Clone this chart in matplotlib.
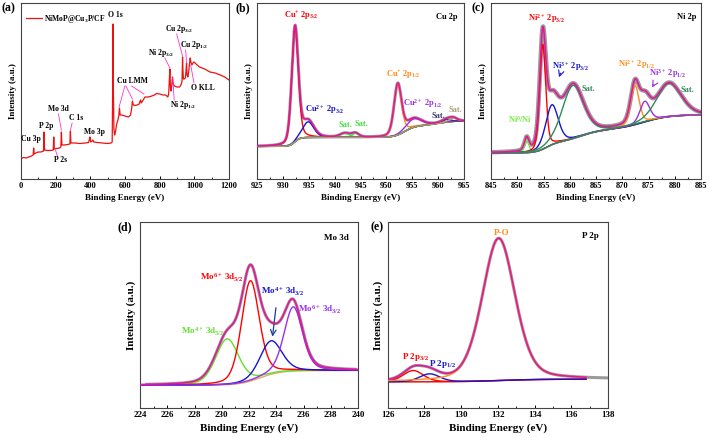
import numpy as np
import matplotlib
matplotlib.use('Agg')
import matplotlib.pyplot as plt

plt.rcParams['font.family'] = 'Liberation Serif'
plt.rcParams['font.weight'] = 'bold'
plt.rcParams['mathtext.fontset'] = 'custom'
plt.rcParams['mathtext.rm'] = 'Liberation Serif:bold'
plt.rcParams['mathtext.it'] = 'Liberation Serif:bold:italic'
plt.rcParams['mathtext.bf'] = 'Liberation Serif:bold'
plt.rcParams['mathtext.default'] = 'rm'
plt.rcParams['axes.linewidth'] = 0.8

# ---- (a) survey spectrum ----
survey_ev = [0, 15, 30, 45, 60, 70, 73, 76, 85, 100, 115, 130, 133, 136, 150, 170, 186, 189, 192,
             205, 222, 230, 233, 236, 250, 270, 282, 285, 288, 310, 340, 370, 390, 395, 398, 402,
             408, 414, 420, 440, 470, 500, 520, 526, 529, 531, 533, 536, 540, 545, 552, 559, 564,
             568, 572, 580, 600, 620, 632, 638, 643, 648, 657, 670, 682, 687, 690, 694, 705, 715,
             735, 755, 770, 782, 800, 820, 835, 847, 852, 856, 859, 862, 866, 870, 874, 878, 885,
             900, 915, 925, 929, 932, 934, 937, 942, 948, 952, 955, 958, 963, 968, 972, 976, 980,
             986, 992, 998, 1010, 1030, 1060, 1090, 1120, 1150, 1175, 1200]
survey_int = [20.5, 21.5, 21, 22, 23, 24, 31, 25, 26, 27, 27, 28, 47, 29, 28.5, 28.5, 29, 42, 30,
              30.5, 31, 32, 47, 34, 34, 34.5, 35, 48, 36, 36, 35.5, 36, 36.5, 40, 42, 37,
              37.5, 39, 37, 36.5, 36, 35.5, 36, 37, 90, 155, 90, 50, 44, 47, 55, 59, 63,
              71, 64, 64, 63, 62, 64, 70, 78, 74, 73.5, 74, 75, 78, 79, 76, 79, 82,
              82, 83, 84, 85.5, 85, 84, 84, 82, 85, 100, 110, 92, 88, 94, 102, 95, 93,
              92, 92, 95, 98, 122, 110, 100, 100, 101, 108, 116, 104, 102, 108, 115, 121, 117,
              114, 116, 117, 115, 112, 110, 107, 106, 104, 102, 99]

# ---- (b) Cu 2p fit ----
cu_centers = [932.35, 934.9, 942.0, 944.0, 952.2, 955.3, 961.6, 962.9]
cu_heights = [345, 47, 12, 12, 152, 25, 8, 10]
cu_fwhm = [1.5, 2.6, 2.2, 1.6, 1.7, 3.5, 2.0, 1.8]
cu_colors = ['#ff0000', '#1515d0', '#44dd44', '#44dd44', '#ff8c1a', '#9a30e6', '#3a3a70', '#a8a070']
cu_bg_base = 98
cu_bg_steps = [(932.3, 27, 1.0), (953.5, 35, 2.0), (960.0, 15, 3.0)]

# ---- (c) Ni 2p fit ----
ni_centers = [851.8, 854.85, 856.6, 860.6, 872.4, 874.3, 878.9]
ni_heights = [38, 315, 120, 160, 118, 62, 100]
ni_fwhm = [1.0, 1.35, 2.8, 4.8, 1.9, 2.2, 5.5]
ni_colors = ['#77ee44', '#ff0000', '#1515d0', '#2e8b57', '#ff8c1a', '#9a30e6', '#2e8b57']
ni_bg_base = 78
ni_bg_steps = [(855.5, 30, 2.0), (862.0, 40, 4.0), (874.0, 45, 5.0)]

# ---- (d) Mo 3d fit ----
mo_centers = [230.4, 232.1, 233.6, 235.25]
mo_heights = [137, 300, 100, 192]
mo_fwhm = [2.0, 1.55, 1.9, 1.6]
mo_colors = ['#66dd33', '#ff0000', '#1515d0', '#9a30e6']
mo_bg_base = 68
mo_bg_steps = [(232.8, 44, 1.5)]

# ---- (e) P 2p fit ----
p_centers = [127.4, 128.3, 132.05]
p_heights = [34, 24, 425]
p_fwhm = [1.3, 1.3, 2.1]
p_colors = ['#ff0000', '#1515d0', '#ff8c1a']
p_bg_base = 78
p_bg_steps = [(132.0, 8, 2.0)]

env_color = '#e6149a'
raw_color = '#9a9a9a'


def pv(x, c, h, w, eta=0.3):
    g = np.exp(-4 * np.log(2) * (x - c) ** 2 / w ** 2)
    l = 1 / (1 + 4 * (x - c) ** 2 / w ** 2)
    return h * ((1 - eta) * g + eta * l)


def background(x, base, steps):
    b = np.full_like(x, base, dtype=float)
    for c, rise, w in steps:
        b += rise * (1 + np.tanh((x - c) / w)) / 2
    return b


def fit_panel(ax, x, centers, heights, fwhm, colors, base, steps, bg_color, raw_lw=2.2, x_raw=None):
    bg = background(x, base, steps)
    comps = [pv(x, c, h, w) for c, h, w in zip(centers, heights, fwhm)]
    env = bg + np.sum(comps, axis=0)
    if x_raw is not None:
        bgr = background(x_raw, base, steps)
        envr = bgr + np.sum([pv(x_raw, c, h, w) for c, h, w in zip(centers, heights, fwhm)], axis=0)
        ax.plot(x_raw, envr, color=raw_color, lw=raw_lw, zorder=1)
    else:
        ax.plot(x, env, color=raw_color, lw=raw_lw, zorder=1)
    ax.plot(x, bg, color=bg_color, lw=1.0, zorder=2)
    for comp, col in zip(comps, colors):
        ax.plot(x, bg + comp, color=col, lw=1.0, zorder=3)
    ax.plot(x, env, color=env_color, lw=1.1, zorder=4)


def style(ax, xlim, ylim, ticks, minor, fs_tick, fs_lab):
    ax.set_xlim(*xlim)
    ax.set_ylim(*ylim)
    ax.set_xticks(ticks)
    ax.set_xticks(minor, minor=True)
    ax.set_yticks([])
    ax.tick_params(axis='x', which='major', direction='in', length=2.5, width=0.7, pad=2.5,
                   labelsize=fs_tick)
    ax.tick_params(axis='x', which='minor', direction='in', length=1.5, width=0.6)
    for s in ax.spines.values():
        s.set_color('#444444')
    ax.set_xlabel('Binding Energy (eV)', fontsize=fs_lab, fontweight='bold', labelpad=2.5)
    ax.set_ylabel('Intensity (a.u.)', fontsize=fs_lab, fontweight='bold', labelpad=3)


fig = plt.figure(figsize=(7.09, 4.38), dpi=100)
W, H = 709, 438


def add_ax(l, t, r, b):
    return fig.add_axes([l / W, 1 - b / H, (r - l) / W, (b - t) / H])


ax_a = add_ax(21, 3, 229, 179)
ax_b = add_ax(257, 3, 464, 179)
ax_c = add_ax(491, 3, 701, 179)
ax_d = add_ax(140, 222, 358, 408)
ax_e = add_ax(387.5, 222, 608, 408)

# (a)
ax_a.plot(survey_ev, survey_int, color='#ee1111', lw=0.9, label='NiMoP@Cu$_3$P/CF')
style(ax_a, (0, 1200), (0, 176), range(0, 1201, 200), range(100, 1200, 200), 6, 6.5)
ax_a.legend(loc='upper left', bbox_to_anchor=(0.0, 0.975), frameon=False, fontsize=5.5,
            handlelength=2.0, borderaxespad=0.3, handletextpad=0.3)
pink = '#ff33cc'
a_labels = [('Cu 3p', 58, 40), ('P 2p', 145, 53), ('P 2s', 229, 19), ('Mo 3d', 216, 70),
            ('C 1s', 318, 61), ('Mo 3p', 424, 47), ('O 1s', 545, 164), ('Cu LMM', 645, 98),
            ('Ni 2p$_{3/2}$', 811, 126), ('Ni 2p$_{1/2}$', 936, 74), ('Cu 2p$_{3/2}$', 913, 150),
            ('Cu 2p$_{1/2}$', 1000, 134), ('O KLL', 1051, 91)]
for t, x, y in a_labels:
    ax_a.text(x, y, t, fontsize=5.5, ha='center', va='center')
a_leaders = [(199, 29, 212, 22), (216, 65, 233, 49), (295, 56, 285, 49), (599, 93, 566, 72),
             (605, 93, 643, 80), (638, 93, 709, 85), (830, 121, 859, 111), (884, 79, 875, 101),
             (898, 145, 932, 123), (950, 129, 955, 116), (998, 96, 979, 114)]
for x0, y0, x1, y1 in a_leaders:
    ax_a.plot([x0, x1], [y0, y1], color=pink, lw=0.6)

# (b)
x_b = np.linspace(925, 965, 800)
fit_panel(ax_b, x_b, cu_centers, cu_heights, cu_fwhm, cu_colors, cu_bg_base, cu_bg_steps, '#8090a8')
style(ax_b, (925, 965), (0, 529), range(925, 966, 5), np.arange(927.5, 965, 5), 6, 6.5)
b_labels = [('Cu$^{+}$ 2p$_{3/2}$', 933.6, 488, '#ff0000'), ('Cu 2p', 961.6, 486, 'black'),
            ('Cu$^{2+}$ 2p$_{3/2}$', 938.0, 208, '#1515d0'), ('Sat.', 942.0, 163, '#44dd44'),
            ('Sat.', 945.1, 166, '#44dd44'), ('Cu$^{+}$ 2p$_{1/2}$', 953.2, 310, '#ff8c1a'),
            ('Cu$^{2+}$ 2p$_{1/2}$', 957.1, 228, '#9a30e6'), ('Sat.', 960.1, 190, '#3a3a70'),
            ('Sat.', 963.3, 206, '#a8a070')]
for t, x, y, c in b_labels:
    ax_b.text(x, y, t, fontsize=6, ha='center', va='center', color=c)

# (c)
x_c = np.linspace(845, 885, 800)
fit_panel(ax_c, x_c, ni_centers, ni_heights, ni_fwhm, ni_colors, ni_bg_base, ni_bg_steps,
          '#2e8b57', raw_lw=3.2)
style(ax_c, (845, 885), (0, 529), range(845, 886, 5), np.arange(847.5, 885, 5), 6, 6.5)
c_labels = [('Ni$^{2+}$ 2p$_{3/2}$', 855.5, 482, '#ff0000'), ('Ni 2p', 882.3, 486, 'black'),
            ('Ni$^{3+}$ 2p$_{3/2}$', 860.1, 338, '#1515d0'), ('Sat.', 863.6, 270, '#2e8b57'),
            ('Ni$^{0}$/Ni', 850.5, 180, '#77ee44'), ('Ni$^{2+}$ 2p$_{1/2}$', 872.8, 344, '#ff8c1a'),
            ('Ni$^{3+}$ 2p$_{1/2}$', 878.6, 318, '#9a30e6'), ('Sat.', 882.5, 268, '#2e8b57')]
for t, x, y, c in c_labels:
    ax_c.text(x, y, t, fontsize=6, ha='center', va='center', color=c)
ax_c.annotate('', xy=(857.8, 298), xytext=(858.4, 326),
              arrowprops=dict(arrowstyle='->', color='#1515d0', lw=0.8))
ax_c.annotate('', xy=(875.4, 268), xytext=(876.3, 292),
              arrowprops=dict(arrowstyle='->', color='#9a30e6', lw=0.8))

# (d)
x_d = np.linspace(224, 240, 600)
fit_panel(ax_d, x_d, mo_centers, mo_heights, mo_fwhm, mo_colors, mo_bg_base, mo_bg_steps,
          '#d8b060', x_raw=np.linspace(224.5, 239.8, 600))
style(ax_d, (224, 240), (0, 556), range(224, 241, 2), range(225, 240, 2), 6.5, 8)
d_labels = [('Mo 3d', 238.4, 508, 'black'), ('Mo$^{6+}$ 3d$_{5/2}$', 230.0, 388, '#ff0000'),
            ('Mo$^{4+}$ 3d$_{3/2}$', 234.5, 348, '#1515d0'),
            ('Mo$^{6+}$ 3d$_{3/2}$', 237.2, 292, '#9a30e6'),
            ('Mo$^{4+}$ 3d$_{5/2}$', 228.6, 228, '#66dd33')]
for t, x, y, c in d_labels:
    ax_d.text(x, y, t, fontsize=6.5, ha='center', va='center', color=c)
ax_d.annotate('', xy=(233.7, 205), xytext=(234.0, 308),
              arrowprops=dict(arrowstyle='->', color='#1a3aa0', lw=0.9))

# (e)
x_e = np.linspace(126, 136.8, 600)
fit_panel(ax_e, x_e, p_centers, p_heights, p_fwhm, p_colors, p_bg_base, p_bg_steps,
          '#dd0000', x_raw=np.linspace(126, 138, 600))
style(ax_e, (126, 138), (0, 556), range(126, 139, 2), range(127, 138, 2), 6.5, 8)
e_labels = [('P-O', 132.2, 522, '#ff8c1a'), ('P 2p', 137.05, 513, 'black'),
            ('P 2p$_{3/2}$', 127.5, 153, '#ff0000'), ('P 2p$_{1/2}$', 129.0, 133, '#1515d0')]
for t, x, y, c in e_labels:
    ax_e.text(x, y, t, fontsize=6.5, ha='center', va='center', color=c)

for t, x, y in [('(a)', 8, 8), ('(b)', 243, 8), ('(c)', 478, 8), ('(d)', 125, 227), ('(e)', 377, 227)]:
    fig.text(x / W, 1 - y / H, t, fontsize=8.5, fontweight='bold', ha='center', va='center')

fig.savefig('out.png', dpi=100)
